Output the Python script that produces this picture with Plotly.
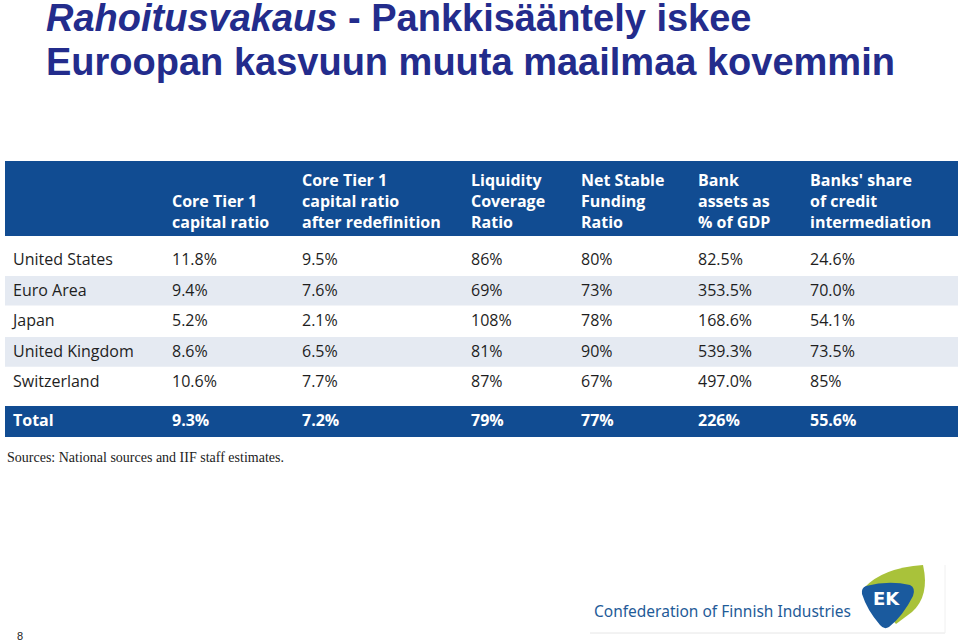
import plotly.graph_objects as go

W, H = 959, 644

# ---- data ----
headers = [
    "",
    " <br>Core Tier 1<br>capital ratio",
    "Core Tier 1<br>capital ratio<br>after redefinition",
    "Liquidity<br>Coverage<br>Ratio",
    "Net Stable<br>Funding<br>Ratio",
    "Bank<br>assets as<br>% of GDP",
    "Banks' share<br>of credit<br>intermediation",
]
countries = ["United States", "Euro Area", "Japan", "United Kingdom", "Switzerland"]
core_tier1 = ["11.8%", "9.4%", "5.2%", "8.6%", "10.6%"]
core_tier1_redef = ["9.5%", "7.6%", "2.1%", "6.5%", "7.7%"]
lcr = ["86%", "69%", "108%", "81%", "87%"]
nsfr = ["80%", "73%", "78%", "90%", "67%"]
bank_assets_gdp = ["82.5%", "353.5%", "168.6%", "539.3%", "497.0%"]
bank_share_credit = ["24.6%", "70.0%", "54.1%", "73.5%", "85%"]
total_row = ["Total", "9.3%", "7.2%", "79%", "77%", "226%", "55.6%"]

title_italic = "Rahoitusvakaus"
title_rest = " - Pankkisääntely iskee"
title_line2 = "Euroopan kasvuun muuta maailmaa kovemmin"
source_text = "Sources: National sources and IIF staff estimates."
footer_text = "Confederation of Finnish Industries"
page_no = "8"

# ---- styling ----
BLUE = "#114c92"
LIGHT = "#e5eaf2"
TXT = "#1e1e1e"
TITLE_C = "#232c8c"
col_w = [159, 130, 169, 110, 117, 112, 156]
FONT = "Open Sans"
ROW_TOP = 245
ROW_H = 30.6


def py(p):  # pixel y -> paper y
    return 1 - p / H


def px(p):
    return p / W


x0, x1 = 5, 958

fig = go.Figure()


def table_row(values, top, height, fill, font_color, bold):
    font = dict(family=FONT, size=16, color=font_color)
    if bold:
        font["weight"] = "bold"
    return go.Table(
        domain=dict(x=[px(x0), px(x1)], y=[py(top + height), py(top)]),
        columnwidth=col_w,
        header=dict(values=values, height=height, align="left",
                    fill=dict(color=fill), line=dict(color=fill, width=0),
                    font=font),
        cells=dict(values=[[] for _ in values], height=1,
                   fill=dict(color="white"), line=dict(width=0)),
    )


# column titles
fig.add_trace(table_row(headers, 161, 75, BLUE, "white", True))

# body rows
body_cols = [countries, core_tier1, core_tier1_redef, lcr, nsfr,
             bank_assets_gdp, bank_share_credit]
for i in range(len(countries)):
    fill = "white" if i % 2 == 0 else LIGHT
    fig.add_trace(table_row([c[i] for c in body_cols], ROW_TOP + i * ROW_H, ROW_H,
                            fill, TXT, False))

# total row
fig.add_trace(table_row(total_row, 406, 31, BLUE, "white", True))

# hidden pixel axes for slide decorations
fig.add_trace(go.Scatter(x=[0, W], y=[0, H], mode="markers",
                         marker=dict(opacity=0), hoverinfo="skip", showlegend=False))

annotations = [
    dict(x=44, y=18, text=f"<i>{title_italic}</i>{title_rest}", xanchor="left", yanchor="middle",
         font=dict(family="Liberation Sans", size=38, color=TITLE_C, weight="bold")),
    dict(x=44, y=62, text=title_line2, xanchor="left", yanchor="middle",
         font=dict(family="Liberation Sans", size=38, color=TITLE_C, weight="bold")),
    dict(x=5, y=457, text=source_text, xanchor="left", yanchor="middle",
         font=dict(family="Liberation Serif", size=14, color="#222")),
    dict(x=592, y=611, text=footer_text, xanchor="left", yanchor="middle",
         font=dict(family="Noto Sans", size=15.5, color="#1f5b98")),
    dict(x=886, y=598, text="<b>EK</b>", xanchor="center", yanchor="middle",
         font=dict(family="DejaVu Sans", size=18, color="white")),
    dict(x=15, y=636, text=page_no, xanchor="left", yanchor="middle",
         font=dict(family="Liberation Sans", size=11, color="#222")),
]
for a in annotations:
    a.update(xref="x", yref="y", showarrow=False)

shapes = [
    # green leaf
    dict(type="path", path="M 864 588 Q 882 568 923 565 Q 930 596 912 612 L 896 624 Z",
         fillcolor="#a9c23a", line=dict(width=0)),
    # blue rounded triangle
    dict(type="path",
         path="M 866 586 Q 889 580 910 585 Q 916 588 913 596 Q 903 616 889 627 "
              "Q 884 630 880 625 Q 867 610 862 594 Q 861 588 866 586 Z",
         fillcolor="#1a5a9e", line=dict(width=0)),
    dict(type="line", x0=590, x1=945, y0=633, y1=633, line=dict(color="#e6e6e6", width=1)),
    dict(type="line", x0=945, x1=945, y0=565, y1=633, line=dict(color="#f0f0f0", width=1)),
]
for s in shapes:
    s.update(xref="x", yref="y", layer="below")

fig.update_layout(
    width=W, height=H, margin=dict(l=0, r=0, t=0, b=0),
    paper_bgcolor="white", plot_bgcolor="white",
    xaxis=dict(range=[0, W], visible=False, fixedrange=True, domain=[0, 1]),
    yaxis=dict(range=[H, 0], visible=False, fixedrange=True, domain=[0, 1]),
    annotations=annotations, shapes=shapes, showlegend=False,
)

fig.write_html("out.html", config={"displayModeBar": False},
               post_script="document.body.style.margin='0';")
